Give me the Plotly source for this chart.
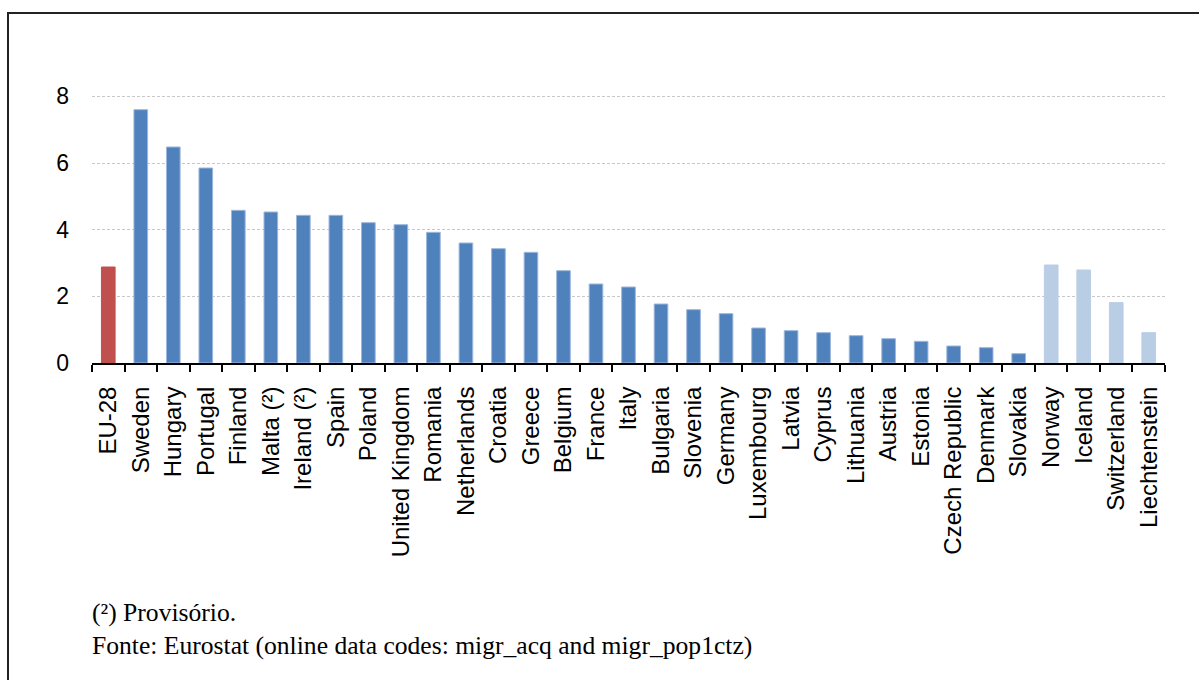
import plotly.graph_objects as go

# Naturalisation rate per 100 resident foreigners, by country
countries = [
    "EU-28", "Sweden", "Hungary", "Portugal", "Finland", "Malta (²)", "Ireland (²)",
    "Spain", "Poland", "United Kingdom", "Romania", "Netherlands", "Croatia", "Greece",
    "Belgium", "France", "Italy", "Bulgaria", "Slovenia", "Germany", "Luxembourg",
    "Latvia", "Cyprus", "Lithuania", "Austria", "Estonia", "Czech Republic", "Denmark",
    "Slovakia", "Norway", "Iceland", "Switzerland", "Liechtenstein",
]
values = [
    2.88, 7.60, 6.48, 5.85, 4.58, 4.53, 4.43,
    4.43, 4.21, 4.15, 3.92, 3.60, 3.43, 3.32,
    2.77, 2.37, 2.28, 1.77, 1.60, 1.48, 1.05,
    0.97, 0.91, 0.82, 0.73, 0.65, 0.51, 0.46,
    0.28, 2.94, 2.79, 1.81, 0.91,
]
groups = ["eu"] + ["member"] * 28 + ["efta"] * 4

y_ticks = [0, 2, 4, 6, 8]
footnote = "(²) Provisório."
source = "Fonte: Eurostat (online data codes: migr_acq and migr_pop1ctz)"

fill = {"eu": "#C0504D", "member": "#4F81BD", "efta": "#B9CDE5"}
edge = {"eu": "#C0504D", "member": "#9DB7DC", "efta": "#B9CDE5"}

W, H = 1199, 680
ML, MR, MT, MB = 92, 34, 63, 317
plot_w = W - ML - MR
plot_h = H - MT - MB


def px_x(px):
    return (px - ML) / plot_w


def px_y(py):
    return (H - MB - py) / plot_h


fig = go.Figure(
    go.Bar(
        x=countries,
        y=values,
        marker=dict(
            color=[fill[g] for g in groups],
            line=dict(color=[edge[g] for g in groups], width=1),
        ),
        hoverinfo="x+y",
    )
)

fig.update_layout(
    width=W,
    height=H,
    margin=dict(l=ML, r=MR, t=MT, b=MB),
    paper_bgcolor="white",
    plot_bgcolor="white",
    bargap=0.58,
    showlegend=False,
    font=dict(family="Liberation Sans, Arial, sans-serif", color="black"),
)

fig.update_xaxes(
    type="category",
    tickangle=-90,
    tickfont=dict(size=24, family="Liberation Sans, Arial, sans-serif"),
    ticks="outside",
    tickson="boundaries",
    ticklen=7,
    tickwidth=2,
    tickcolor="black",
    showline=True,
    linecolor="black",
    linewidth=2,
    showgrid=False,
    ticklabelstandoff=12,
)

fig.update_yaxes(
    range=[0, 9],
    tickvals=y_ticks,
    tickfont=dict(size=23, family="Liberation Sans, Arial, sans-serif"),
    showgrid=True,
    gridcolor="#C8C8C8",
    gridwidth=1,
    griddash="3px,2px",
    zeroline=False,
    showline=False,
    ticks="",
    ticklabelstandoff=22,
)

# Outer frame: left and top edges of the box
fig.add_shape(
    type="path",
    xref="paper",
    yref="paper",
    path=f"M {px_x(8)} {px_y(690)} L {px_x(8)} {px_y(13)} L {px_x(1210)} {px_y(13)}",
    line=dict(color="#222222", width=2),
)

note_font = dict(family="Liberation Serif, Times New Roman, serif", size=25.6, color="black")
fig.add_annotation(
    text=footnote,
    xref="paper", yref="paper",
    x=px_x(90), y=px_y(612),
    xanchor="left", yanchor="middle",
    showarrow=False,
    font=note_font,
)
fig.add_annotation(
    text=source,
    xref="paper", yref="paper",
    x=px_x(90), y=px_y(645),
    xanchor="left", yanchor="middle",
    showarrow=False,
    font=note_font,
)

fig.write_html("out.html")
